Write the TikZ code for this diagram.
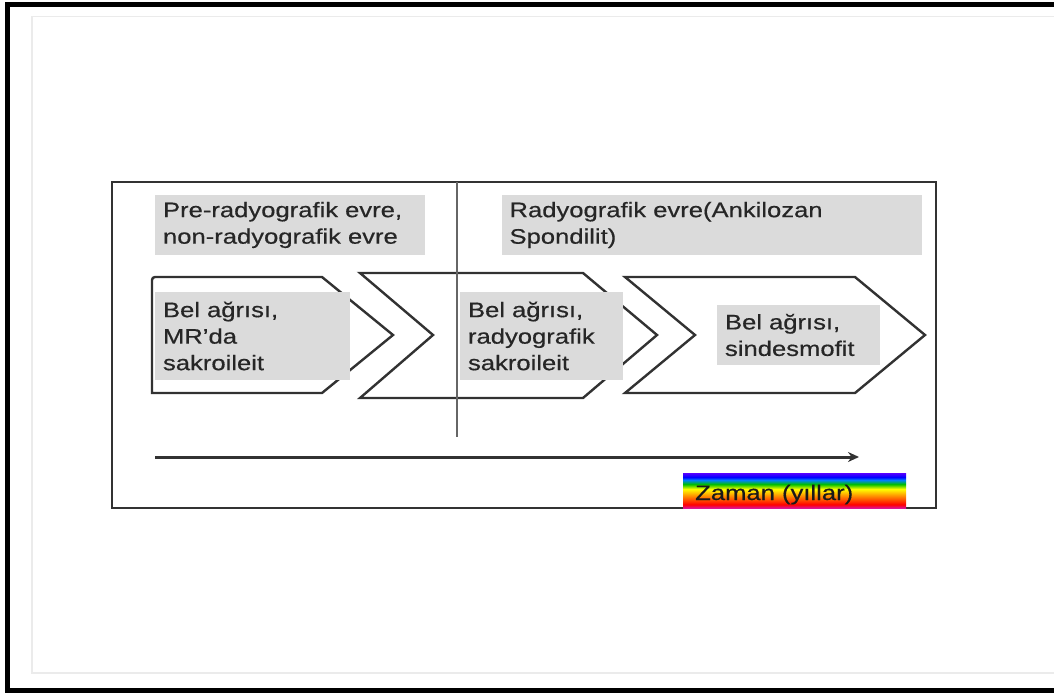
\documentclass[tikz,border=0pt]{standalone}
\usepackage{fontspec}
\setmainfont{Liberation Sans}[FakeStretch=1.22, FakeBold=0.5]
\usetikzlibrary{arrows.meta}
\definecolor{barmag}{RGB}{220,20,150}
\definecolor{lineg}{RGB}{50,50,50}
\pgfdeclareverticalshading{rainbowbar}{100bp}{color(0bp)=(barmag); color(25bp)=(barmag); color(30bp)=(red); color(41bp)=(orange); color(52bp)=(yellow); color(59bp)=(green!75!black); color(65bp)=(cyan!50!blue); color(69bp)=(blue); color(75bp)=(blue!65!magenta); color(100bp)=(blue!65!magenta)}

\tikzset{
  frame/.style={draw=lineg, line width=2.4pt},
  chevron/.style={draw=lineg, line width=2.4pt, fill=white, line join=miter},
  graybox/.style={fill=black!14, align=left, inner xsep=8pt, inner ysep=0pt,
    text=black!85, font=\fontsize{21}{26.5}\selectfont},
}

\begin{document}
\begin{tikzpicture}[x=1pt, y=-1pt]

  \useasboundingbox (0,0) rectangle (1054,693);

  %% page frame
  \draw[line width=5pt] (1054,4.5) -- (7.5,4.5) -- (7.5,690.5) -- (1054,690.5);
  \draw[black!8, line width=1.5pt] (1054,16.5) -- (32,16.5) -- (32,673) -- (1054,673);

  \draw[frame] (112,182) rectangle (936,508);

  %% chevrons
  \draw[chevron] (322,277) -- (393,335) -- (322,393) -- (152,393) [rounded corners=3pt] -- (152,277) [sharp corners] -- cycle;
  \draw[chevron] (360,273) -- (583,273) -- (657,335) -- (583,398) -- (360,398) -- (433,335) -- cycle;
  \draw[chevron] (625,277) -- (855,277) -- (925,335) -- (855,393) -- (625,393) -- (695,335) -- cycle;

  \coordinate (splittop) at (457,182);
  \coordinate (splitbot) at (457,437);
  \draw[black!60, line width=2.2pt] (splittop) -- (splitbot); %% stage divider

  \node[graybox, text width=254pt, minimum height=60pt] (preevre) at (290,225)
    {Pre-radyografik evre,\\non-radyografik evre};
  \node[graybox, text width=404pt, minimum height=60pt] (radevre) at (711.5,225)
    {Radyografik evre(Ankilozan\\Spondilit)};

  \node[graybox, text width=179pt, minimum height=88pt] (belmr) at (252.5,336)
    {Bel ağrısı,\\MR’da\\sakroileit};
  \node[graybox, text width=147pt, minimum height=88pt] (belrad) at (541.5,336)
    {Bel ağrısı,\\radyografik\\sakroileit};
  \node[graybox, text width=147pt, minimum height=60pt] (belsin) at (798.5,335)
    {Bel ağrısı,\\sindesmofit};

  %% time axis
  \coordinate (tstart) at (155,457);
  \coordinate (tend) at (859,457);
  \draw[lineg, line width=3pt, -{Stealth[length=11pt, width=10pt]}] (tstart) -- (tend);

  \node[shading=rainbowbar, minimum width=223pt, minimum height=35pt, inner sep=0pt] (zamanbar) at (794.5,490.5) {};
  \node[anchor=base west, inner sep=0pt, text=black!90, font=\fontsize{21}{26.5}\selectfont] (zaman) at (695,500) {Zaman (yıllar)};

\end{tikzpicture}
\end{document}
